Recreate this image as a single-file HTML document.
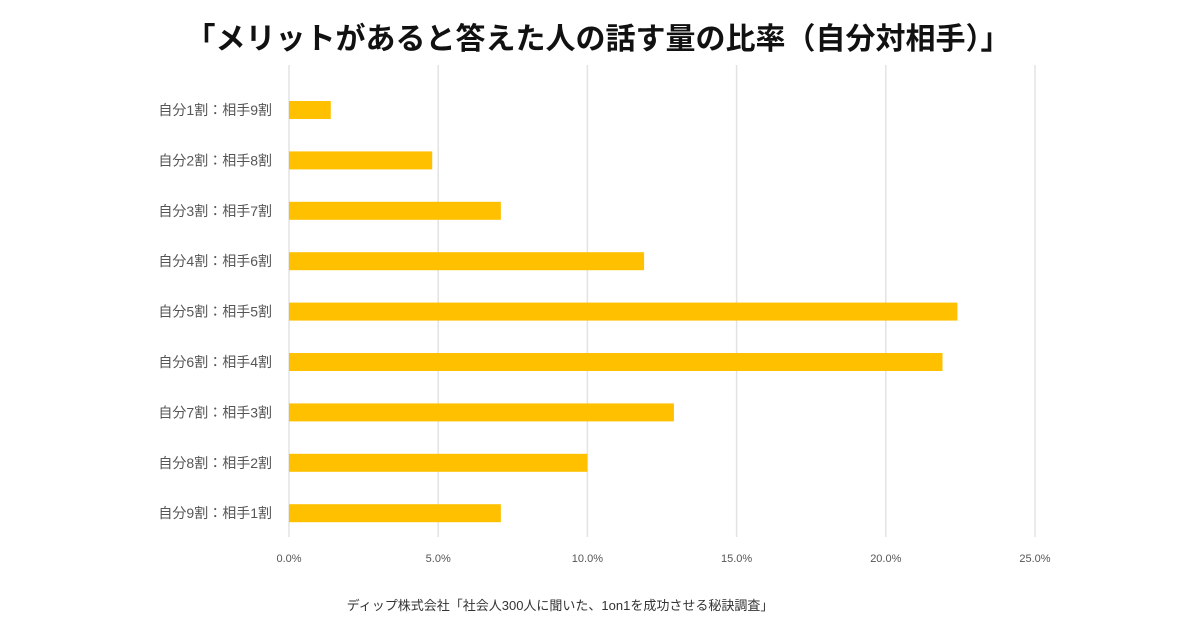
<!DOCTYPE html>
<html><head><meta charset="utf-8"><style>
body{margin:0;background:#fff;}
svg text{font-family:"Liberation Sans","Noto Sans CJK JP",sans-serif;}
</style></head><body>
<svg width="1200" height="630" xmlns="http://www.w3.org/2000/svg" id="chart">
<text x="598" y="49" text-anchor="middle" font-size="30" font-weight="bold" fill="#111">「メリットがあると答えた人の話す量の比率（自分対相手）」</text>
<g id="grid"></g><g id="bars"></g><g id="labels"></g><g id="ticks"></g>
<text x="560" y="610" text-anchor="middle" font-size="13" fill="#333">ディップ株式会社「社会人300人に聞いた、1on1を成功させる秘訣調査」</text>
</svg>
<script>
const categories=["自分1割：相手9割","自分2割：相手8割","自分3割：相手7割","自分4割：相手6割","自分5割：相手5割","自分6割：相手4割","自分7割：相手3割","自分8割：相手2割","自分9割：相手1割"];
const values=[1.4,4.8,7.1,11.9,22.4,21.9,12.9,10.0,7.1];
const tickValues=[0,5,10,15,20,25];
const tickLabels=["0.0%","5.0%","10.0%","15.0%","20.0%","25.0%"];
const NS="http://www.w3.org/2000/svg";
const x=v=>289+v*(1035-289)/25;
const y=i=>110+i*50.4;
function mk(t,a,p){const e=document.createElementNS(NS,t);for(const k in a)e.setAttribute(k,a[k]);p.appendChild(e);return e;}
const g=document.getElementById('grid'),b=document.getElementById('bars'),l=document.getElementById('labels'),tk=document.getElementById('ticks');
tickValues.forEach((v,i)=>{
 const ln=mk('line',{x1:x(v),x2:x(v),y1:65,y2:537,stroke:'#e3e3e3','stroke-width':1.5},g);
 
 
 const t=mk('text',{x:x(v),y:562,'text-anchor':'middle','font-size':11,fill:'#555'},tk);
 t.textContent=tickLabels[i];
 
 
});
categories.forEach((c,i)=>{
 const r=mk('rect',{x:x(0),y:y(i)-9,width:x(values[i])-x(0),height:18,fill:'#ffc000'},b);
 
 
 const t=mk('text',{x:272,y:y(i)+5,'text-anchor':'end','font-size':14,fill:'#555'},l);
 t.textContent=c;
 
 
});
</script>
</body></html>
